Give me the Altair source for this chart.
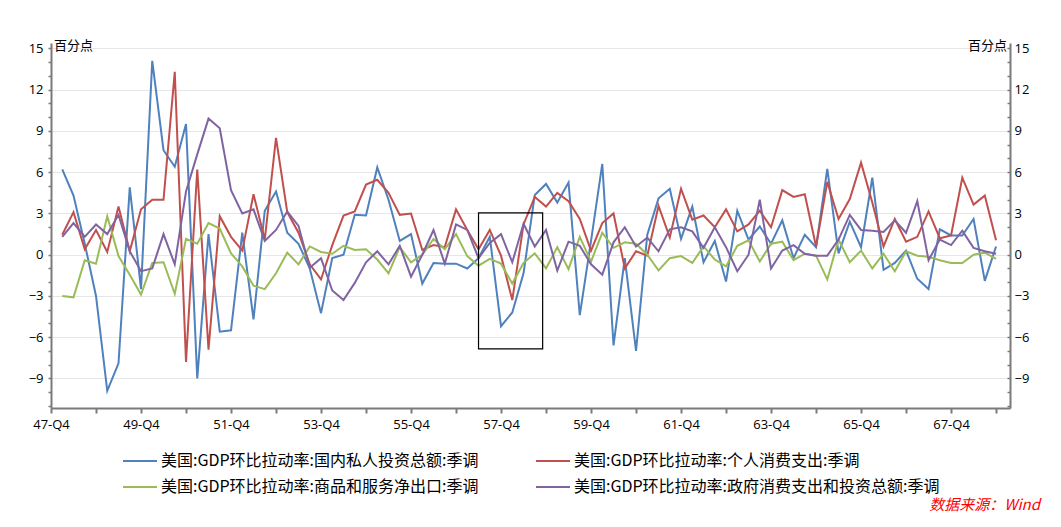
import json
import altair as alt
import pandas as pd

# ---------------- data ----------------
series_names = [
    "美国:GDP环比拉动率:国内私人投资总额:季调",
    "美国:GDP环比拉动率:个人消费支出:季调",
    "美国:GDP环比拉动率:商品和服务净出口:季调",
    "美国:GDP环比拉动率:政府消费支出和投资总额:季调",
]
series_colors = ["#4f81bd", "#c0504d", "#9bbb59", "#8064a2"]

invest = [6.2, 4.3, 0.8, -3.0, -9.9, -7.9, 4.9, -2.5, 14.1, 7.6, 6.4, 9.5,
          -9.0, 1.5, -5.6, -5.5, 1.6, -4.7, 3.2, 4.6, 1.6, 0.8, -1.0, -4.25,
          -0.25, 0.0, 2.9, 2.85, 6.35, 4.0, 1.0, 1.5, -2.1, -0.6, -0.65, -0.65,
          -1.0, -0.25, 1.3, -5.2, -4.2, -1.35, 4.35, 5.15, 3.8, 5.25, -4.4, 1.0,
          6.6, -6.6, -0.25, -7.0, 1.45, 4.1, 4.8, 1.15, 3.5, -0.55, 1.0, -1.95,
          3.2, 1.1, 2.05, 0.8, 2.5, -0.25, 1.45, 0.55, 6.25, 0.1, 2.4, 0.55,
          5.6, -1.1, -0.6, 0.3, -1.75, -2.5, 1.85, 1.4, 1.4, 2.6, -1.9, 0.6]
consume = [1.45, 3.1, 0.4, 1.8, 0.2, 3.5, 0.25, 3.3, 4.0, 4.0, 13.3, -7.8,
           6.2, -6.9, 2.8, 1.3, 0.3, 4.4, 1.1, 8.5, 3.1, 1.6, -0.7, -1.8,
           0.7, 2.85, 3.15, 5.1, 5.45, 4.5, 2.9, 3.0, 0.35, 0.7, 0.55, 3.3,
           1.8, 0.4, 1.8, -0.07, -3.3, 2.2, 4.2, 3.5, 4.5, 3.9, 2.6, 0.3,
           2.3, 3.0, -1.0, 0.25, -0.07, 3.55, 1.25, 4.8, 2.55, 2.85, 2.0, 3.3,
           1.7, 2.2, 3.2, 2.0, 4.7, 4.2, 4.4, 0.6, 5.3, 2.6, 4.05, 6.7,
           3.8, 0.6, 2.6, 0.95, 1.3, 3.15, 1.2, 1.4, 5.6, 3.65, 4.3, 1.05]
net_export = [-3.0, -3.1, -0.4, -0.65, 2.8, -0.1, -1.45, -2.9, -0.6, -0.55, -2.85, 1.15,
              0.8, 2.3, 1.9, 0.1, -0.85, -2.25, -2.5, -1.35, 0.15, -0.7, 0.6, 0.2,
              0.07, 0.65, 0.35, 0.4, -0.35, -1.35, 0.55, -0.55, 0.0, 1.15, 0.4, 1.5,
              -0.1, -0.8, -0.3, -0.65, -2.1, -0.6, 0.1, -1.0, 0.55, -1.05, 1.3, -0.5,
              1.6, 0.5, 0.9, 0.8, 0.0, -1.15, -0.25, -0.1, -0.6, 0.6, -0.35, -0.85,
              0.65, 1.05, -0.5, 0.8, 0.95, -0.4, 0.07, -0.07, -1.8, 1.1, -0.55, 0.3,
              -1.0, 0.07, -1.2, 0.25, -0.07, -0.15, -0.4, -0.6, -0.6, 0.0, 0.15, -0.3]
government = [1.3, 2.3, 1.3, 2.2, 1.5, 2.9, 0.25, -1.2, -1.0, 1.5, -0.7, 4.6,
              7.3, 9.9, 9.2, 4.7, 3.0, 3.3, 1.0, 1.8, 3.15, 2.1, -0.95, -0.25,
              -2.6, -3.3, -2.05, -0.55, 0.25, -0.7, 0.65, -1.6, 0.0, 1.8, -0.65, 2.2,
              1.8, -0.25, 0.85, 1.5, -0.55, 2.25, 0.6, 1.8, -1.15, 0.95, 0.65, -0.7,
              -1.45, 0.9, 2.0, 0.6, 1.25, 0.25, 1.85, 2.0, 1.7, 0.5, 2.0, 0.55,
              -1.2, 0.0, 4.0, -1.0, 0.3, 0.7, 0.07, -0.07, -0.07, 1.1, 2.9, 1.8,
              1.75, 1.65, 2.5, 1.6, 3.9, -0.4, 1.1, 0.7, 1.75, 0.5, 0.25, 0.07]

x_tick_labels = ["47-Q4", "49-Q4", "51-Q4", "53-Q4", "55-Q4", "57-Q4",
                 "59-Q4", "61-Q4", "63-Q4", "65-Q4", "67-Q4"]
y_tick_values = [-9, -6, -3, 0, 3, 6, 9, 12, 15]

# highlighted window (quarter index from 47-Q4, value)
box_x = [38.0, 43.7]
box_y = [-6.85, 3.05]

unit_label = "百分点"
source_label = "数据来源：Wind"

# ---------------- tables ----------------
rows = []
for name, vals in zip(series_names, [invest, consume, net_export, government]):
    for i, v in enumerate(vals, start=1):
        yr = 47 + (3 + i) // 4
        q = (3 + i) % 4 + 1
        rows.append({"series": name, "idx": i, "quarter": f"{yr}-Q{q}", "val": v})
df = pd.DataFrame(rows)
box_df = pd.DataFrame({"idx": [box_x[0]], "idx2": [box_x[1]],
                       "val": [box_y[0]], "val2": [box_y[1]]})

FONT = "Open Sans"
CJK = "Noto Sans CJK SC"
AXIS_COLOR = "#7a7a7a"

xs = alt.Scale(domain=[0, 85.24], nice=False, zero=False)
ys = alt.Scale(domain=[-11.15, 15.4], nice=False, zero=False)

x_label_expr = ("datum.value % 8 === 0 ? " + json.dumps(x_tick_labels)
                + "[datum.value / 8] : ''")
y_label_expr = "datum.value % 3 === 0 ? datum.label : ''"
minor_values = list(range(-11, 16))

x_axis = alt.Axis(values=list(range(0, 85, 4)), labelExpr=x_label_expr, title=None,
                  grid=False, tickSize=5, tickWidth=2, tickColor=AXIS_COLOR,
                  domainColor=AXIS_COLOR, domainWidth=2, labelFont=FONT,
                  labelFontSize=13, labelColor="black", labelPadding=5,
                  labelFlush=False, labelOverlap=False)

legend = alt.Legend(title=None, orient="none", legendX=71, legendY=400, columns=2,
                    direction="horizontal",
                    symbolType="stroke", symbolSize=1156, symbolStrokeWidth=2,
                    labelFont=CJK, labelFontSize=16, labelColor="black",
                    labelLimit=600, columnPadding=53, rowPadding=-8, labelOffset=3)

lines = alt.Chart(df).mark_line(strokeWidth=2).encode(
    x=alt.X("idx:Q", scale=xs, axis=x_axis),
    y=alt.Y("val:Q", scale=ys, axis=alt.Axis(
        orient="left", values=minor_values, labelExpr=y_label_expr, title=None,
        grid=True, gridColor="#e6e6e6", gridWidth=1,
        gridOpacity={"condition": {"test": "datum.value % 3 === 0", "value": 1}, "value": 0},
        tickSize=3, tickWidth=1.5, tickColor=AXIS_COLOR, domainColor=AXIS_COLOR,
        domainWidth=2, labelFont=FONT, labelFontSize=13, labelColor="black",
        labelPadding=5, labelFlush=False, labelOverlap=False)),
    color=alt.Color("series:N", scale=alt.Scale(domain=series_names, range=series_colors),
                    sort=series_names, legend=legend),
    detail="series:N",
)

box = alt.Chart(box_df).mark_rect(fillOpacity=0, stroke="black", strokeWidth=1.2).encode(
    x=alt.X("idx:Q", scale=xs),
    x2="idx2",
    y=alt.Y("val:Q", scale=ys, axis=alt.Axis(
        orient="right", values=minor_values, labelExpr=y_label_expr, title=None,
        grid=False, domain=False, offset=-3, tickSize=3, tickWidth=1.5,
        tickColor=AXIS_COLOR, labelFont=FONT, labelFontSize=13, labelColor="black",
        labelPadding=4, labelFlush=False, labelOverlap=False)),
    y2="val2",
)

right_domain = alt.Chart(box_df).mark_rect(opacity=0).encode(
    x=alt.X("idx:Q", scale=xs),
    x2="idx2",
    y=alt.Y("val:Q", scale=ys, axis=alt.Axis(
        orient="right", title=None, grid=False, ticks=False, labels=False,
        domain=True, domainColor=AXIS_COLOR, domainWidth=2)),
    y2="val2",
)

txt_df = pd.DataFrame({"t": [unit_label]})
unit_left = alt.Chart(txt_df).mark_text(
    font=CJK, fontSize=13, color="black", align="left", baseline="middle"
).encode(x=alt.value(3), y=alt.value(3), text="t:N")
unit_right = alt.Chart(txt_df).mark_text(
    font=CJK, fontSize=13, color="black", align="right", baseline="middle"
).encode(x=alt.value(956), y=alt.value(3), text="t:N")

src_df = pd.DataFrame({"t": [source_label]})
source = alt.Chart(src_df).mark_text(
    font=CJK, fontSize=15, color="#ff0000", fontStyle="italic", align="right",
    baseline="middle"
).encode(x=alt.value(989), y=alt.value(462), text="t:N")

chart = alt.layer(lines, box, right_domain, unit_left, unit_right, source).resolve_scale(
    x="shared", y="shared"
).resolve_axis(y="independent").properties(
    width=959, height=365,
    autosize=alt.AutoSizeParams(type="none"),
    padding={"left": 43, "top": 35, "right": 43, "bottom": 111},
    background="white",
).configure_view(stroke=None)

chart.save("out.html", embed_options={"renderer": "svg", "actions": False})
